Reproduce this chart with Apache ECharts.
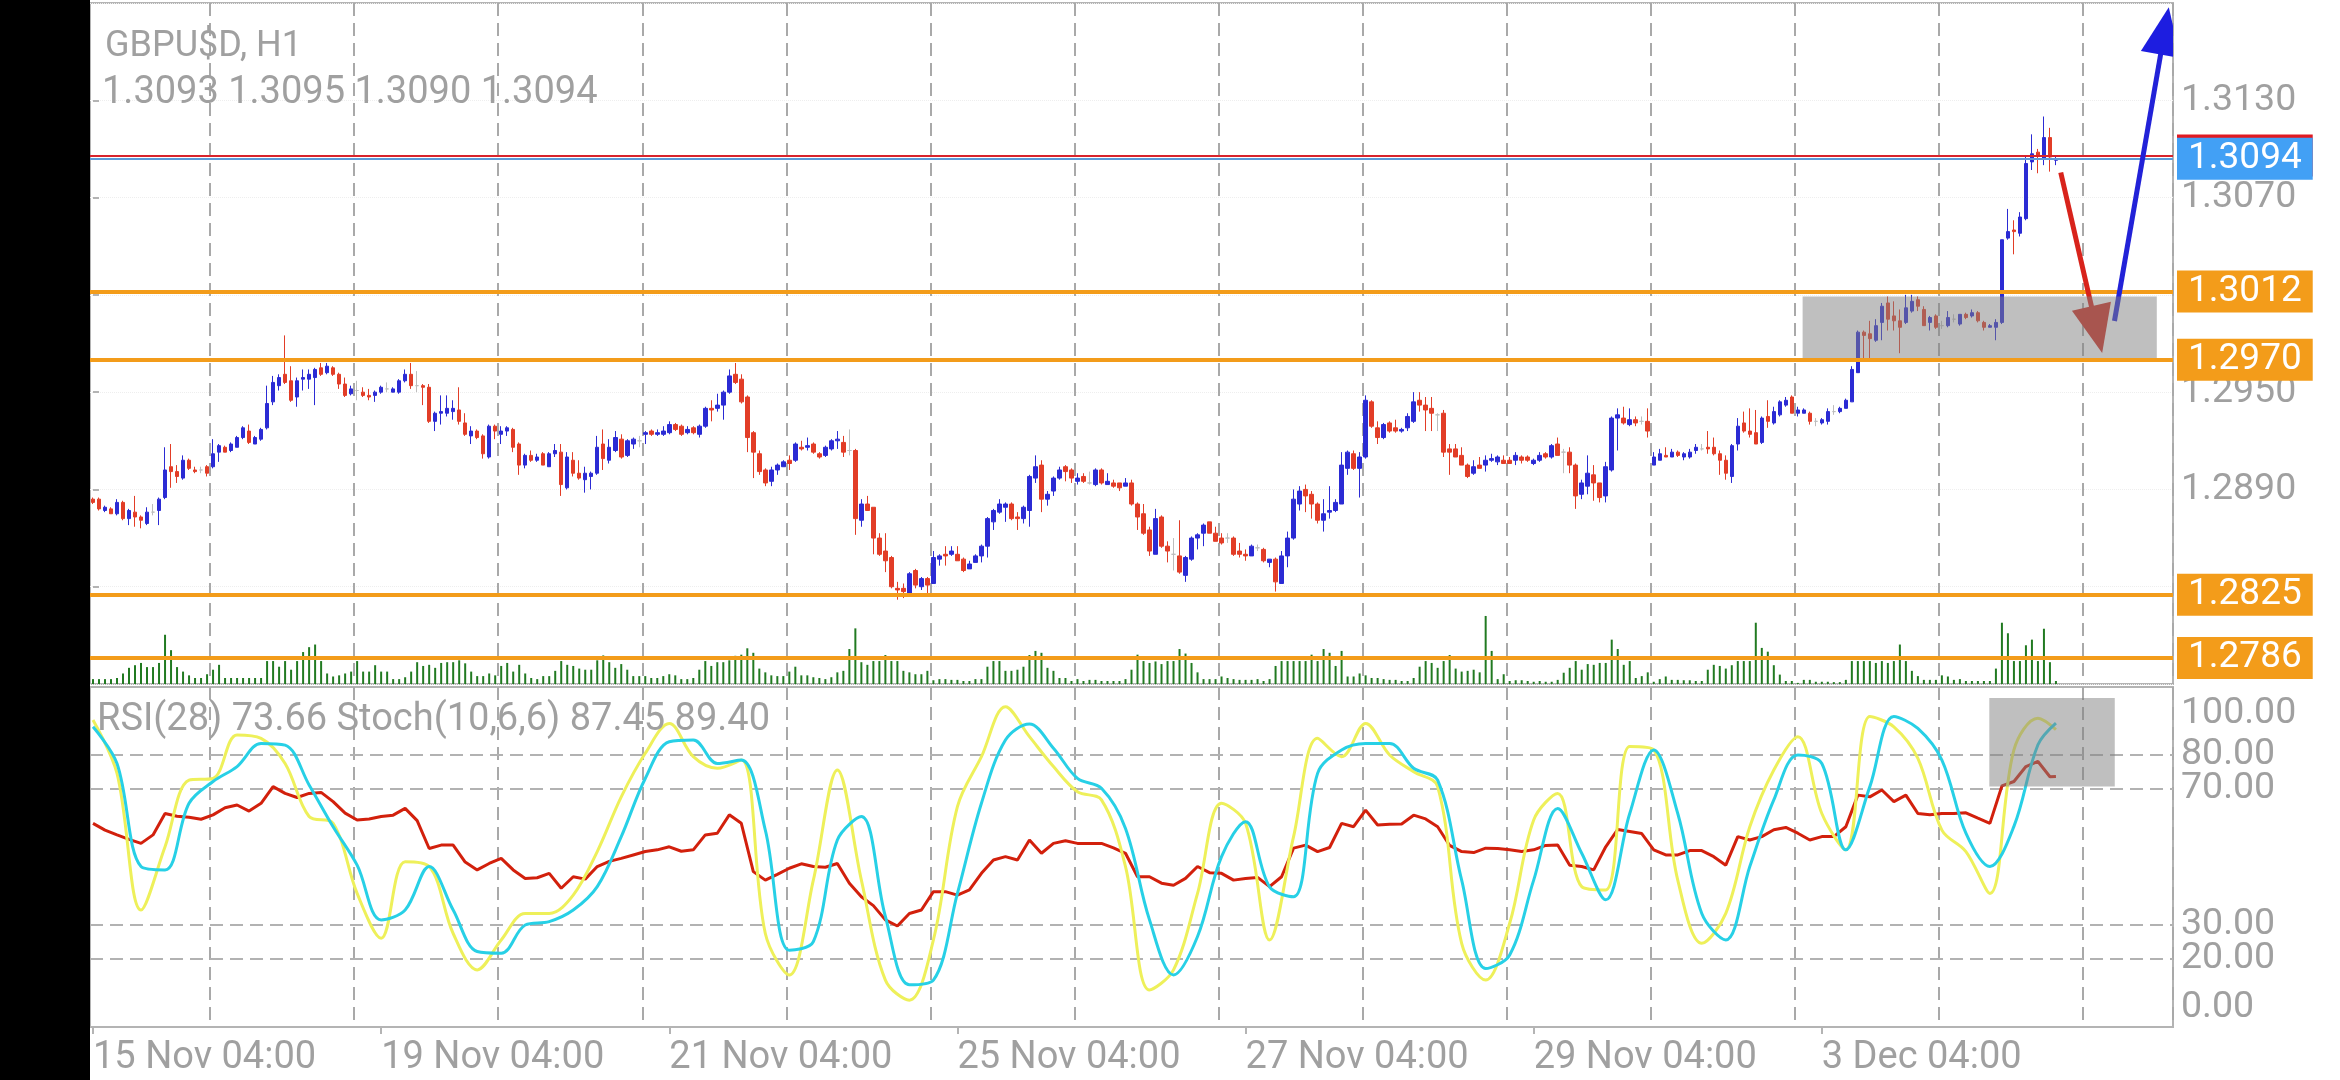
<!DOCTYPE html>
<html><head><meta charset="utf-8">
<script src="https://cdn.jsdelivr.net/npm/echarts@6/dist/echarts.min.js"></script>
<style>html,body{margin:0;padding:0;background:#fff;}#c{width:2340px;height:1080px;}</style>
</head><body><div id="c"></div>
<script>
// ---------- categories (hourly bars, weekends skipped) ----------
const tradingDays = ['15 Nov','18 Nov','19 Nov','20 Nov','21 Nov','22 Nov','25 Nov','26 Nov','27 Nov','28 Nov','29 Nov','2 Dec','3 Dec','4 Dec','5 Dec'];
const firstHour = 4;
const slotCount = 347;
const labelEvery = 48;
const lastLabelSlot = 288;

// ---------- candles [open, close, low, high] ----------
const ohlc = [
[1.2884,1.2882,1.2881,1.2885],[1.2884,1.2878,1.2877,1.2885],[1.2877,1.2879,1.2876,1.2880],[1.2878,1.2875,1.2875,1.2879],[1.2875,1.2882,1.2874,1.2884],
[1.2882,1.2872,1.2871,1.2883],[1.2872,1.2877,1.2868,1.2878],[1.2876,1.2873,1.2867,1.2886],[1.2873,1.2871,1.2866,1.2874],[1.2869,1.2876,1.2868,1.2879],
[1.2876,1.2876,1.2874,1.2881],[1.2877,1.2884,1.2868,1.2885],[1.2885,1.2902,1.2884,1.2916],[1.2904,1.2901,1.2891,1.2918],[1.2901,1.2898,1.2894,1.2905],
[1.2897,1.2908,1.2896,1.2911],[1.2908,1.2903,1.2902,1.2909],[1.2902,1.2901,1.2900,1.2904],[1.2902,1.2902,1.2900,1.2904],[1.2904,1.2900,1.2898,1.2905],
[1.2904,1.2912,1.2903,1.2921],[1.2913,1.2917,1.2907,1.2918],[1.2916,1.2913,1.2913,1.2917],[1.2914,1.2918,1.2913,1.2919],[1.2916,1.2922,1.2916,1.2923],
[1.2922,1.2928,1.2921,1.2929],[1.2926,1.2919,1.2918,1.2930],[1.2918,1.2922,1.2918,1.2923],[1.2921,1.2927,1.2920,1.2928],[1.2928,1.2943,1.2927,1.2954],
[1.2944,1.2956,1.2942,1.2960],[1.2954,1.2959,1.2951,1.2961],[1.2961,1.2956,1.2955,1.2985],[1.2957,1.2945,1.2944,1.2966],[1.2947,1.2957,1.2941,1.2959],
[1.2958,1.2959,1.2951,1.2964],[1.2958,1.2961,1.2952,1.2964],[1.2959,1.2964,1.2942,1.2965],[1.2965,1.2961,1.2960,1.2968],[1.2962,1.2966,1.2961,1.2968],
[1.2965,1.2961,1.2960,1.2966],[1.2961,1.2955,1.2952,1.2962],[1.2955,1.2948,1.2947,1.2959],[1.2949,1.2952,1.2948,1.2954],[1.2951,1.2951,1.2945,1.2957],
[1.2950,1.2948,1.2947,1.2953],[1.2948,1.2947,1.2945,1.2952],[1.2948,1.2950,1.2944,1.2951],[1.2950,1.2953,1.2949,1.2954],[1.2952,1.2952,1.2950,1.2956],
[1.2950,1.2952,1.2950,1.2953],[1.2950,1.2957,1.2949,1.2958],[1.2957,1.2961,1.2956,1.2964],[1.2961,1.2954,1.2952,1.2968],[1.2954,1.2954,1.2950,1.2963],
[1.2954,1.2953,1.2942,1.2955],[1.2953,1.2932,1.2931,1.2955],[1.2932,1.2937,1.2926,1.2938],[1.2937,1.2938,1.2930,1.2948],[1.2937,1.2940,1.2935,1.2948],
[1.2938,1.2940,1.2933,1.2945],[1.2939,1.2932,1.2930,1.2953],[1.2931,1.2924,1.2923,1.2937],[1.2923,1.2926,1.2918,1.2929],[1.2926,1.2922,1.2921,1.2927],
[1.2923,1.2912,1.2909,1.2924],[1.2910,1.2929,1.2909,1.2930],[1.2929,1.2926,1.2921,1.2930],[1.2924,1.2926,1.2918,1.2929],[1.2926,1.2928,1.2923,1.2929],
[1.2927,1.2916,1.2913,1.2928],[1.2918,1.2905,1.2899,1.2919],[1.2905,1.2911,1.2903,1.2912],[1.2911,1.2908,1.2907,1.2914],[1.2908,1.2910,1.2907,1.2912],
[1.2912,1.2905,1.2905,1.2913],[1.2904,1.2912,1.2904,1.2913],[1.2912,1.2914,1.2910,1.2918],[1.2913,1.2893,1.2886,1.2918],[1.2891,1.2910,1.2890,1.2913],
[1.2908,1.2900,1.2898,1.2913],[1.2900,1.2897,1.2896,1.2908],[1.2896,1.2900,1.2888,1.2904],[1.2898,1.2900,1.2890,1.2901],[1.2900,1.2916,1.2899,1.2923],
[1.2918,1.2909,1.2902,1.2927],[1.2908,1.2916,1.2906,1.2921],[1.2914,1.2922,1.2913,1.2926],[1.2921,1.2910,1.2909,1.2924],[1.2911,1.2920,1.2910,1.2921],
[1.2918,1.2921,1.2915,1.2922],[1.2920,1.2920,1.2916,1.2923],[1.2924,1.2925,1.2918,1.2926],[1.2926,1.2924,1.2923,1.2927],[1.2924,1.2925,1.2923,1.2927],
[1.2924,1.2926,1.2923,1.2929],[1.2925,1.2930,1.2924,1.2932],[1.2930,1.2927,1.2926,1.2931],[1.2929,1.2924,1.2923,1.2930],[1.2925,1.2927,1.2924,1.2929],
[1.2928,1.2925,1.2924,1.2929],[1.2924,1.2929,1.2922,1.2930],[1.2929,1.2940,1.2928,1.2941],[1.2940,1.2939,1.2932,1.2945],[1.2940,1.2942,1.2938,1.2949],
[1.2942,1.2950,1.2933,1.2951],[1.2950,1.2960,1.2949,1.2964],[1.2961,1.2956,1.2955,1.2968],[1.2958,1.2944,1.2943,1.2961],[1.2947,1.2922,1.2913,1.2948],
[1.2925,1.2913,1.2897,1.2926],[1.2912,1.2901,1.2899,1.2914],[1.2902,1.2894,1.2892,1.2903],[1.2895,1.2902,1.2892,1.2904],[1.2902,1.2905,1.2899,1.2906],
[1.2904,1.2907,1.2904,1.2908],[1.2908,1.2906,1.2902,1.2911],[1.2908,1.2918,1.2907,1.2919],[1.2916,1.2915,1.2914,1.2920],[1.2916,1.2917,1.2914,1.2922],
[1.2918,1.2913,1.2912,1.2919],[1.2912,1.2910,1.2909,1.2913],[1.2911,1.2916,1.2910,1.2917],[1.2915,1.2920,1.2914,1.2921],[1.2920,1.2921,1.2915,1.2926],
[1.2919,1.2913,1.2910,1.2923],[1.2914,1.2914,1.2911,1.2927],[1.2914,1.2872,1.2862,1.2915],[1.2871,1.2881,1.2867,1.2884],[1.2881,1.2877,1.2877,1.2886],
[1.2879,1.2860,1.2850,1.2879],[1.2860,1.2850,1.2849,1.2863],[1.2852,1.2846,1.2839,1.2863],[1.2848,1.2830,1.2829,1.2849],[1.2829,1.2828,1.2822,1.2833],
[1.2829,1.2827,1.2823,1.2832],[1.2826,1.2838,1.2826,1.2839],[1.2840,1.2831,1.2829,1.2841],[1.2830,1.2835,1.2828,1.2836],[1.2835,1.2831,1.2826,1.2836],
[1.2832,1.2848,1.2832,1.2852],[1.2847,1.2849,1.2843,1.2850],[1.2850,1.2849,1.2843,1.2855],[1.2850,1.2852,1.2849,1.2855],[1.2850,1.2846,1.2846,1.2855],
[1.2847,1.2840,1.2839,1.2848],[1.2841,1.2844,1.2841,1.2846],[1.2845,1.2849,1.2845,1.2850],[1.2849,1.2855,1.2845,1.2856],[1.2855,1.2872,1.2848,1.2873],
[1.2870,1.2877,1.2865,1.2878],[1.2876,1.2881,1.2875,1.2884],[1.2879,1.2881,1.2870,1.2882],[1.2881,1.2872,1.2871,1.2882],[1.2873,1.2872,1.2865,1.2876],
[1.2872,1.2879,1.2869,1.2880],[1.2877,1.2898,1.2867,1.2899],[1.2897,1.2904,1.2894,1.2911],[1.2905,1.2884,1.2876,1.2908],[1.2884,1.2887,1.2880,1.2889],
[1.2889,1.2897,1.2886,1.2898],[1.2897,1.2902,1.2896,1.2904],[1.2904,1.2901,1.2895,1.2905],[1.2902,1.2897,1.2894,1.2903],[1.2895,1.2897,1.2893,1.2900],
[1.2898,1.2895,1.2894,1.2900],[1.2894,1.2894,1.2893,1.2901],[1.2893,1.2902,1.2892,1.2903],[1.2902,1.2894,1.2893,1.2903],[1.2893,1.2895,1.2893,1.2900],
[1.2894,1.2892,1.2891,1.2896],[1.2894,1.2891,1.2889,1.2894],[1.2892,1.2894,1.2892,1.2897],[1.2894,1.2881,1.2880,1.2896],[1.2881,1.2873,1.2865,1.2882],
[1.2875,1.2863,1.2862,1.2881],[1.2865,1.2852,1.2849,1.2867],[1.2850,1.2872,1.2850,1.2878],[1.2873,1.2855,1.2854,1.2874],[1.2855,1.2852,1.2845,1.2858],
[1.2850,1.2850,1.2840,1.2860],[1.2849,1.2839,1.2838,1.2871],[1.2837,1.2848,1.2833,1.2849],[1.2847,1.2860,1.2846,1.2861],[1.2860,1.2862,1.2853,1.2863],
[1.2863,1.2868,1.2855,1.2869],[1.2870,1.2863,1.2863,1.2870],[1.2863,1.2858,1.2858,1.2867],[1.2860,1.2857,1.2856,1.2863],[1.2860,1.2860,1.2857,1.2863],
[1.2860,1.2850,1.2849,1.2861],[1.2852,1.2850,1.2848,1.2857],[1.2850,1.2849,1.2846,1.2853],[1.2849,1.2855,1.2849,1.2856],[1.2854,1.2854,1.2852,1.2856],
[1.2853,1.2846,1.2845,1.2854],[1.2845,1.2847,1.2842,1.2847],[1.2847,1.2833,1.2827,1.2848],[1.2832,1.2849,1.2832,1.2852],[1.2849,1.2860,1.2842,1.2864],
[1.2860,1.2884,1.2859,1.2890],[1.2881,1.2889,1.2877,1.2892],[1.2890,1.2886,1.2876,1.2893],[1.2887,1.2881,1.2872,1.2889],[1.2881,1.2871,1.2869,1.2882],
[1.2871,1.2875,1.2864,1.2884],[1.2876,1.2877,1.2872,1.2892],[1.2877,1.2882,1.2876,1.2884],[1.2881,1.2905,1.2881,1.2913],[1.2903,1.2913,1.2899,1.2914],
[1.2912,1.2903,1.2902,1.2914],[1.2903,1.2910,1.2885,1.2913],[1.2910,1.2945,1.2909,1.2948],[1.2944,1.2929,1.2928,1.2945],[1.2928,1.2922,1.2918,1.2932],
[1.2922,1.2930,1.2921,1.2931],[1.2931,1.2926,1.2925,1.2932],[1.2928,1.2926,1.2925,1.2933],[1.2926,1.2927,1.2925,1.2928],[1.2928,1.2935,1.2926,1.2937],
[1.2932,1.2944,1.2931,1.2950],[1.2945,1.2942,1.2938,1.2950],[1.2942,1.2939,1.2926,1.2947],[1.2940,1.2937,1.2926,1.2947],[1.2936,1.2936,1.2926,1.2937],
[1.2937,1.2913,1.2910,1.2939],[1.2915,1.2913,1.2899,1.2918],[1.2915,1.2910,1.2910,1.2918],[1.2911,1.2905,1.2905,1.2916],[1.2905,1.2898,1.2897,1.2906],
[1.2900,1.2904,1.2899,1.2908],[1.2905,1.2903,1.2903,1.2910],[1.2905,1.2908,1.2901,1.2911],[1.2908,1.2909,1.2907,1.2912],[1.2907,1.2910,1.2905,1.2911],
[1.2908,1.2906,1.2906,1.2911],[1.2908,1.2906,1.2906,1.2910],[1.2908,1.2911,1.2905,1.2913],[1.2910,1.2908,1.2906,1.2911],[1.2910,1.2908,1.2907,1.2911],
[1.2906,1.2908,1.2905,1.2909],[1.2908,1.2911,1.2907,1.2913],[1.2912,1.2910,1.2909,1.2913],[1.2910,1.2917,1.2909,1.2918],[1.2918,1.2911,1.2911,1.2922],
[1.2913,1.2913,1.2900,1.2915],[1.2913,1.2905,1.2900,1.2916],[1.2905,1.2886,1.2878,1.2906],[1.2887,1.2894,1.2884,1.2896],[1.2892,1.2900,1.2887,1.2911],
[1.2899,1.2894,1.2883,1.2905],[1.2894,1.2885,1.2882,1.2894],[1.2886,1.2904,1.2882,1.2907],[1.2902,1.2934,1.2901,1.2935],[1.2934,1.2936,1.2914,1.2940],
[1.2934,1.2931,1.2930,1.2941],[1.2930,1.2933,1.2929,1.2940],[1.2933,1.2931,1.2929,1.2935],[1.2932,1.2932,1.2930,1.2935],[1.2932,1.2926,1.2922,1.2940],
[1.2905,1.2910,1.2905,1.2913],[1.2908,1.2912,1.2908,1.2915],[1.2911,1.2910,1.2910,1.2916],[1.2910,1.2913,1.2910,1.2915],[1.2913,1.2911,1.2910,1.2914],
[1.2910,1.2912,1.2908,1.2913],[1.2910,1.2913,1.2909,1.2915],[1.2914,1.2916,1.2912,1.2918],[1.2915,1.2915,1.2914,1.2918],[1.2916,1.2915,1.2912,1.2926],
[1.2916,1.2912,1.2911,1.2922],[1.2912,1.2908,1.2899,1.2914],[1.2908,1.2900,1.2896,1.2911],[1.2898,1.2917,1.2894,1.2918],[1.2918,1.2929,1.2914,1.2934],
[1.2931,1.2926,1.2925,1.2938],[1.2926,1.2924,1.2922,1.2940],[1.2925,1.2918,1.2918,1.2939],[1.2919,1.2934,1.2918,1.2935],[1.2935,1.2932,1.2928,1.2945],
[1.2931,1.2938,1.2930,1.2941],[1.2936,1.2944,1.2935,1.2945],[1.2942,1.2945,1.2941,1.2947],[1.2947,1.2937,1.2937,1.2948],[1.2937,1.2939,1.2935,1.2941],
[1.2937,1.2939,1.2937,1.2940],[1.2937,1.2932,1.2930,1.2938],[1.2932,1.2932,1.2929,1.2934],[1.2931,1.2933,1.2930,1.2934],[1.2932,1.2938,1.2930,1.2940],
[1.2938,1.2938,1.2936,1.2942],[1.2938,1.2940,1.2937,1.2941],[1.2940,1.2945,1.2940,1.2946],[1.2944,1.2964,1.2944,1.2966],[1.2962,1.2987,1.2962,1.2988],
[1.2987,1.2985,1.2971,1.2988],[1.2986,1.2983,1.2971,1.2994],[1.2982,1.2991,1.2981,1.2995],[1.2993,1.3003,1.2982,1.3005],[1.3005,1.2995,1.2988,1.3009],
[1.2997,1.2994,1.2988,1.3006],[1.2994,1.2990,1.2974,1.3001],[1.2993,1.3002,1.2992,1.3010],[1.3000,1.3006,1.2999,1.3010],[1.3007,1.3003,1.3000,1.3009],
[1.3001,1.2991,1.2991,1.3003],[1.2993,1.2996,1.2988,1.2997],[1.2997,1.2990,1.2989,1.2998],[1.2991,1.2991,1.2989,1.2994],[1.2991,1.2996,1.2990,1.3000],
[1.2995,1.2995,1.2993,1.2998],[1.2992,1.2998,1.2991,1.2998],[1.2998,1.2996,1.2995,1.2999],[1.2997,1.2999,1.2996,1.3001],[1.2999,1.2994,1.2993,1.3000],
[1.2993,1.2990,1.2988,1.2994],[1.2990,1.2991,1.2990,1.2992],[1.2990,1.2993,1.2982,1.2995],[1.2993,1.3044,1.2992,1.3044],[1.3045,1.3049,1.3044,1.3063],
[1.3050,1.3049,1.3035,1.3056],[1.3048,1.3058,1.3046,1.3061],[1.3057,1.3091,1.3056,1.3096],[1.3092,1.3097,1.3087,1.3109],[1.3098,1.3096,1.3085,1.3100],
[1.3094,1.3107,1.3090,1.3120],[1.3107,1.3095,1.3086,1.3113],[1.3093,1.3094,1.3090,1.3095]
];

// ---------- tick volume (relative units) ----------
const volume = [
13,13,13,13,16,28,43,50,56,45,45,56,131,90,45,33,23,16,16,26,38,51,16,16,16,16,16,16,16,61,61,46,61,38,61,85,98,105,61,28,20,23,28,33,61,33,33,50,33,33,13,13,18,33,58,
48,51,43,56,58,58,63,55,33,21,21,28,23,48,56,33,51,28,16,13,21,21,35,61,51,48,41,38,38,63,76,58,43,53,38,21,21,21,16,16,21,26,23,13,13,16,38,61,48,58,58,63,75,78,95,
83,41,31,23,21,21,33,46,23,23,18,16,13,18,31,35,93,148,58,51,61,61,77,61,61,35,31,26,26,35,10,13,13,11,11,8,8,13,13,46,61,61,35,35,38,46,77,88,83,43,35,16,16,8,13,
8,11,11,8,8,8,8,13,38,78,61,56,60,53,61,61,93,81,56,31,13,13,13,20,16,13,11,11,11,13,8,13,48,61,61,61,61,61,78,61,93,83,48,88,20,20,28,23,16,16,13,11,11,8,8,
16,46,61,56,43,61,77,41,33,35,38,31,181,88,13,26,8,10,10,8,6,8,6,6,11,30,43,61,38,53,51,56,56,118,93,51,61,16,21,31,6,13,20,11,11,10,10,8,8,38,51,48,41,50,61,
61,61,163,96,86,50,25,8,8,3,11,11,6,6,6,5,5,11,61,61,61,61,56,61,56,61,105,61,35,21,11,11,11,23,20,11,13,8,8,8,8,8,41,163,135,61,61,103,118,61,147,58,8
];

// ---------- oscillators (RSI every 2 bars, stochastic every 4 bars; last value = last bar) ----------
const rsiStep = 2;
const rsi = [
59.9,57.9,56.5,55.2,54.0,56.5,62.8,62.0,61.7,61.1, 62.4,64.5,65.3,63.5,65.8,70.7,68.7,67.5,68.7,69.0,
66.3,62.9,60.9,61.2,61.9,62.3,64.3,60.7,52.5,53.5, 53.5,48.5,46.2,48.1,49.6,46.2,43.7,43.9,45.2,40.8,
44.2,43.5,47.2,48.7,49.6,50.6,51.6,52.1,53.0,51.7, 52.1,56.5,57.0,62.4,59.9,45.7,43.2,44.9,46.7,48.0,
47.2,47.0,48.1,42.3,38.3,35.7,31.5,29.7,33.4,34.4, 39.8,39.8,38.8,40.3,45.2,49.1,50.1,49.1,55.0,51.1,
54.0,54.8,54.0,54.0,54.0,52.7,51.1,44.2,44.2,42.3, 41.7,43.7,47.2,45.4,45.2,43.2,43.7,44.0,41.3,44.2,
52.6,53.5,51.6,52.8,59.9,58.9,63.8,59.4,59.6,59.7, 62.3,61.2,58.9,53.4,51.6,51.3,52.6,52.5,52.1,51.6,
52.1,53.4,53.5,47.6,47.2,46.2,53.0,58.1,57.5,56.9, 52.1,50.6,50.6,51.9,51.9,50.1,47.6,56.0,55.0,56.0,
58.0,58.7,57.0,55.0,56.0,56.0,58.9,68.2,67.7,69.7, 66.3,68.2,62.8,62.4,62.8,62.8,63.0,61.4,59.9,70.9,
72.2,76.6,78.1,73.6,73.66];
const stochStep = 4;
const stochK = [90.3,74.6,34.4,53.0,72.6,73.1,85.9,84.9,77.5,61.9,59.9,39.3,26.1,48.6,47.2,27.5,16.8,25.6,33.4,33.4,38.8,51.6,67.7,80.5,89.3,79.5,76.1,78.5,27.5,15.3,43.2,75.6,43.2,13.8,7.9,25.6,64.8,79.5,94.2,85.4,76.6,69.2,66.8,47.2,10.9,
16.8,39.3,65.8,59.9,25.6,56.0,84.9,79.5,89.3,80.0,75.1,70.7,24.6,13.8,30.5,60.9,68.7,41.3,40.3,82.5,81.5,43.2,24.6,33.4,58.9,75.6,85.4,62.8,52.1,91.3,88.3,79.0,57.9,51.6,39.3,81.5,90.8,87.45];
const stochD = [88.3,77.5,47.2,46.2,65.8,72.2,76.6,83.4,82.9,71.2,58.9,47.6,31.5,34.4,47.2,34.4,22.2,21.7,30.0,31.0,34.4,41.3,56.0,73.1,83.9,84.4,77.5,78.5,57.9,22.6,25.1,55.0,61.9,32.5,12.4,13.8,39.3,65.8,84.4,89.1,82.0,73.1,70.2,58.4,31.5,
15.3,26.6,50.1,60.4,41.2,38.3,74.6,81.5,83.4,83.4,76.1,72.6,43.2,17.2,21.2,43.2,64.3,51.1,37.4,62.8,81.5,62.8,33.4,25.6,47.2,66.8,80.0,77.5,52.1,70.7,91.3,87.8,78.5,57.0,47.2,59.0,83.0,89.40];
const oscLevels = [80, 70, 30, 20];
const oscLabelValues = [0, 20, 30, 70, 80, 100];

// ---------- price levels & annotations ----------
const levelPrices = [1.3012, 1.2970, 1.2825, 1.2786];
const askPrice = 1.3096;
const bidPrice = 1.3094;
const zoneX = [284.8, 343.8];
const zonePrice = [1.3009, 1.2971];
const arrowFrom = [[327.8, 1.30855], [336.75, 1.29939]];
const arrowTo = [[334.7, 1.29741], [345.8, 1.31874]];
const oscBoxX = [315.9, 336.8];
const oscBoxV = [96.8, 70.7];

// ---------- build ----------
const categories = [];
tradingDays.forEach((d, di) => {
  for (let h = (di === 0 ? firstHour : 0); h < 24; h++) {
    if (categories.length < slotCount) categories.push(d + ' ' + String(h).padStart(2, '0') + ':00');
  }
});
const lastBar = ohlc.length - 1;
function sampleIdx(n, step) {
  const idx = [];
  for (let k = 0; k < n - 1; k++) idx.push(k * step);
  idx.push(lastBar);
  return idx;
}
const rsiIdx = sampleIdx(rsi.length, rsiStep);
const stochIdx = sampleIdx(stochK.length, stochStep);

const GRAY = '#a0a0a0', LINE = '#b4b4b4', ORANGE = '#f39c1a';
const isDayStart = (i, v) => typeof v === 'string' && v.endsWith(' 00:00');
const isLabelSlot = (i) => i % labelEvery === 0 && i <= lastLabelSlot;
const daySplit = { show: true, interval: isDayStart, lineStyle: { color: '#a9a9a9', width: 2, type: [13, 7] } };
// axis labels sitting under a level box are hidden by that box
const coveredByLevel = v => levelPrices.some(p => Math.abs(p - v) < 0.001);

const last = ohlc[lastBar];
const headerPrices = [last[0], last[3], last[2], last[1]].map(v => v.toFixed(4)).join(' ');
const oscHeader = 'RSI(28) ' + rsi[rsi.length - 1].toFixed(2) + ' Stoch(10,6,6) ' +
  stochK[stochK.length - 1].toFixed(2) + ' ' + stochD[stochD.length - 1].toFixed(2);

function priceLabel(bg) {
  return { show: true, position: 'end', distance: 4, formatter: p => Number(p.value).toFixed(4),
    color: '#ffffff', backgroundColor: bg, fontSize: 37, fontFamily: 'Roboto', lineHeight: 36, padding: [3, 11, 3, 11] };
}

const chart = echarts.init(document.getElementById('c'), null, { renderer: 'canvas' });
chart.setOption({
  animation: false,
  backgroundColor: '#ffffff',
  textStyle: { fontFamily: 'Roboto' },
  grid: [
    { left: 90, right: 167, top: 3, height: 681, show: true, borderColor: LINE, borderWidth: 2, outerBoundsMode: 'none', containLabel: false },
    { left: 90, right: 167, top: 584, height: 100, outerBoundsMode: 'none', containLabel: false },
    { left: 90, right: 167, top: 687, height: 340, show: true, borderColor: LINE, borderWidth: 2, outerBoundsMode: 'none', containLabel: false }
  ],
  xAxis: [
    { type: 'category', gridIndex: 0, data: categories, boundaryGap: true, axisLine: { show: false }, axisTick: { show: false }, axisLabel: { show: false }, splitLine: daySplit },
    { type: 'category', gridIndex: 1, data: categories, boundaryGap: true, show: false },
    { type: 'value', gridIndex: 0, min: -0.5, max: slotCount - 0.5, show: false },
    { type: 'category', gridIndex: 2, data: categories, boundaryGap: true,
      axisLine: { show: true, lineStyle: { color: LINE, width: 2 } },
      axisTick: { show: true, interval: isLabelSlot, alignWithLabel: true, length: 7, lineStyle: { color: LINE, width: 2 } },
      axisLabel: { show: true, interval: isLabelSlot, align: 'left', color: GRAY, fontSize: 38, fontFamily: 'Roboto', margin: 12, hideOverlap: false },
      splitLine: daySplit },
    { type: 'value', gridIndex: 2, min: -0.5, max: slotCount - 0.5, show: false }
  ],
  yAxis: [
    { type: 'value', gridIndex: 0, position: 'right', min: 1.2770, max: 1.3190, interval: 0.006, scale: true,
      axisLine: { show: false },
      axisTick: { show: true, length: 6, lineStyle: { color: LINE, width: 2 } },
      axisLabel: { color: GRAY, fontSize: 37.5, fontFamily: 'Roboto', margin: 8, padding: [8, 0, 0, 0], showMinLabel: false, showMaxLabel: false, hideOverlap: false,
        formatter: v => coveredByLevel(v) ? '' : v.toFixed(4) },
      splitLine: { show: true, lineStyle: { color: '#eeeeee', width: 1, type: 'dotted' } } },
    { type: 'value', gridIndex: 1, min: 0, max: 266, show: false },
    { type: 'value', gridIndex: 2, position: 'right', min: 0, max: 100, interval: 10,
      axisLine: { show: false }, axisTick: { show: false },
      axisLabel: { color: GRAY, fontSize: 37.5, fontFamily: 'Roboto', margin: 8, padding: [8, 0, 0, 0], hideOverlap: false,
        verticalAlignMaxLabel: 'top', verticalAlignMinLabel: 'bottom',
        formatter: v => oscLabelValues.includes(Math.round(v)) ? v.toFixed(2) : '' },
      splitLine: { show: false } }
  ],
  series: [
    { type: 'bar', name: 'Volume', xAxisIndex: 1, yAxisIndex: 1, data: volume, barWidth: 2, z: 2,
      itemStyle: { color: '#217a21' }, silent: true },
    { type: 'candlestick', name: 'GBPUSD', xAxisIndex: 0, yAxisIndex: 0, data: ohlc, barWidth: 4, z: 3,
      itemStyle: { color: '#2b2bd4', color0: '#e23d27', borderColor: '#2b2bd4', borderColor0: '#e23d27', borderColorDoji: '#bdbdbd', borderWidth: 1 },
      markLine: { silent: true, symbol: ['none', 'none'], animation: false, precision: 4,
        lineStyle: { color: ORANGE, width: 4, type: 'solid' },
        label: priceLabel(ORANGE),
        data: levelPrices.map(p => ({ yAxis: p })) } },
    { type: 'line', name: 'price', xAxisIndex: 0, yAxisIndex: 0, data: [], z: 4,
      markLine: { silent: true, symbol: ['none', 'none'], animation: false, precision: 4,
        data: [
          { yAxis: askPrice, lineStyle: { color: '#d8232b', width: 2, type: 'solid' }, label: priceLabel('#e01a22') },
          { yAxis: bidPrice, lineStyle: { color: '#5b9bd8', width: 2, type: 'solid' }, label: priceLabel('#42a0f5') }
        ] } },
    { type: 'custom', name: 'arrows', xAxisIndex: 2, yAxisIndex: 0, z: 6, clip: true, silent: true,
      data: arrowFrom.map((f, k) => [f[0], f[1], arrowTo[k][0], arrowTo[k][1]]),
      encode: { x: [0, 2], y: [1, 3] },
      renderItem: (params, api) => {
        const s = api.coord([api.value(0), api.value(1)]);
        const t = api.coord([api.value(2), api.value(3)]);
        const dx = t[0] - s[0], dy = t[1] - s[1], len = Math.hypot(dx, dy);
        const ux = dx / len, uy = dy / len, nx = -uy, ny = ux;
        const headLen = 48, headHalf = 20;
        const bx = t[0] - ux * headLen, by = t[1] - uy * headLen;
        const col = params.dataIndex === 0 ? '#d8231b' : '#2222d8';
        const head = params.dataIndex === 0 ? '#d02a1e' : '#1d1de0';
        return { type: 'group', children: [
          { type: 'line', shape: { x1: s[0], y1: s[1], x2: bx + ux * 6, y2: by + uy * 6 }, style: { stroke: col, lineWidth: 5 } },
          { type: 'polygon', shape: { points: [[t[0], t[1]], [bx + nx * headHalf, by + ny * headHalf], [bx - nx * headHalf, by - ny * headHalf]] }, style: { fill: head } }
        ] };
      } },
    { type: 'custom', name: 'zone', xAxisIndex: 2, yAxisIndex: 0, z: 7, silent: true,
      data: [[zoneX[0], zonePrice[0], zoneX[1], zonePrice[1]]],
      encode: { x: [0, 2], y: [1, 3] },
      renderItem: (params, api) => {
        const a = api.coord([api.value(0), api.value(1)]);
        const b = api.coord([api.value(2), api.value(3)]);
        return { type: 'rect', shape: { x: a[0], y: a[1], width: b[0] - a[0], height: b[1] - a[1] }, style: { fill: 'rgba(128,128,128,0.5)' } };
      } },
    { type: 'custom', name: 'oscLevels', xAxisIndex: 4, yAxisIndex: 2, z: 1, silent: true,
      data: oscLevels.map(v => [-0.5, v]),
      encode: { x: 0, y: 1 },
      renderItem: (params, api) => {
        const a = api.coord([-0.5, api.value(1)]);
        const b = api.coord([slotCount - 0.5, api.value(1)]);
        return { type: 'line', shape: { x1: a[0], y1: a[1], x2: b[0], y2: b[1] }, style: { stroke: '#b2b2b2', lineWidth: 2, lineDash: [13, 7] } };
      } },
    { type: 'line', name: 'RSI', xAxisIndex: 3, yAxisIndex: 2, data: rsiIdx.map((x, k) => [x, rsi[k]]), z: 3,
      showSymbol: false, lineStyle: { color: '#d2200c', width: 3 }, silent: true },
    { type: 'line', name: 'StochK', xAxisIndex: 3, yAxisIndex: 2, data: stochIdx.map((x, k) => [x, stochK[k]]), z: 4,
      showSymbol: false, smooth: 0.35, lineStyle: { color: '#eef05a', width: 3 }, silent: true },
    { type: 'line', name: 'StochD', xAxisIndex: 3, yAxisIndex: 2, data: stochIdx.map((x, k) => [x, stochD[k]]), z: 5,
      showSymbol: false, smooth: 0.35, lineStyle: { color: '#27d0e6', width: 3 }, silent: true },
    { type: 'custom', name: 'oscBox', xAxisIndex: 4, yAxisIndex: 2, z: 8, silent: true,
      data: [[oscBoxX[0], oscBoxV[0], oscBoxX[1], oscBoxV[1]]],
      encode: { x: [0, 2], y: [1, 3] },
      renderItem: (params, api) => {
        const a = api.coord([api.value(0), api.value(1)]);
        const b = api.coord([api.value(2), api.value(3)]);
        return { type: 'rect', shape: { x: a[0], y: a[1], width: b[0] - a[0], height: b[1] - a[1] }, style: { fill: 'rgba(128,128,128,0.5)' } };
      } }
  ],
  graphic: [
    { type: 'rect', shape: { x: 0, y: 0, width: 90, height: 1080 }, style: { fill: '#000000' }, z: 100, silent: true },
    { type: 'text', x: 105, y: 47, z: 101, silent: true, style: { text: 'GBPU$D, H1', fill: GRAY, font: '36px Roboto', verticalAlign: 'middle', align: 'left' } },
    { type: 'text', x: 102, y: 93, z: 101, silent: true, style: { text: headerPrices, fill: GRAY, font: '38px Roboto', verticalAlign: 'middle', align: 'left' } },
    { type: 'text', x: 97, y: 720, z: 101, silent: true, style: { text: oscHeader, fill: GRAY, font: '38px Roboto', verticalAlign: 'middle', align: 'left' } }
  ]
});
</script>
</body></html>
